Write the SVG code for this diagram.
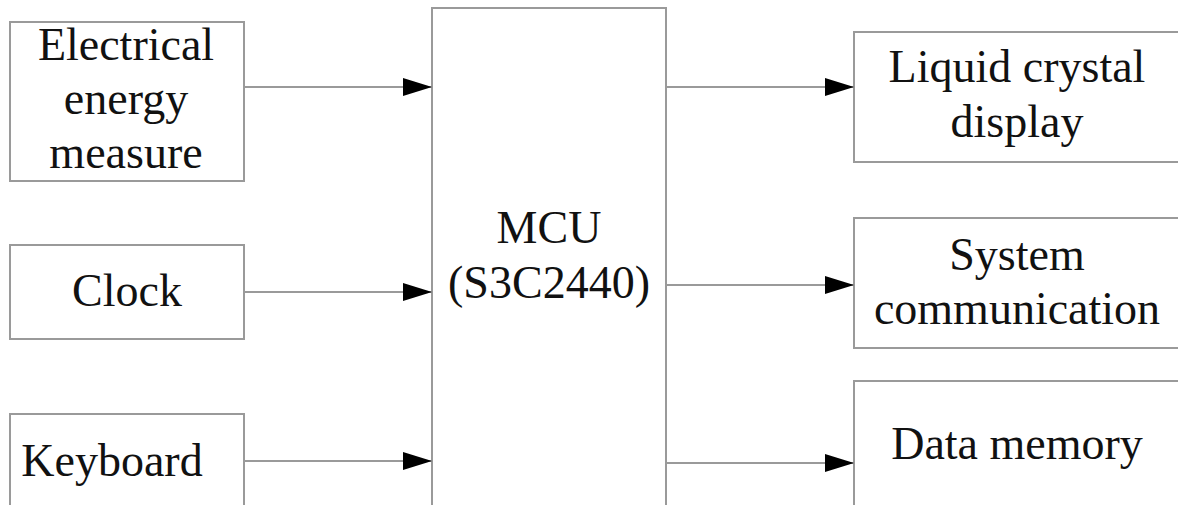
<svg xmlns="http://www.w3.org/2000/svg" width="1178" height="505" viewBox="0 0 1178 505">
<style>
.box{fill:#fff;stroke:#9a9a9a;stroke-width:2}
.lbl{font-family:"Liberation Serif","Times New Roman",serif;font-size:46px;fill:#111;text-anchor:middle}
.conn{stroke:#9a9a9a;stroke-width:2;fill:none}
</style>
<defs>
<marker id="arr" markerUnits="userSpaceOnUse" markerWidth="29" markerHeight="18" refX="29" refY="9" orient="auto">
<path d="M0,0 L29,9 L0,18 Z" fill="#000"/>
</marker>
</defs>
<rect width="1178" height="505" fill="#fff"/>
<g id="n-electrical">
<rect class="box" x="10" y="22" width="234" height="159"/>
<text class="lbl" x="126" y="60">Electrical</text>
<text class="lbl" x="126" y="114">energy</text>
<text class="lbl" x="126" y="168">measure</text>
</g>
<g id="n-clock">
<rect class="box" x="10" y="245" width="234" height="94"/>
<text class="lbl" x="127" y="306">Clock</text>
</g>
<g id="n-keyboard">
<rect class="box" x="10" y="414" width="234" height="110"/>
<text class="lbl" x="112" y="476">Keyboard</text>
</g>
<g id="n-mcu">
<rect class="box" x="432" y="8" width="234" height="520"/>
<text class="lbl" x="549" y="243">MCU</text>
<text class="lbl" x="549" y="298">(S3C2440)</text>
</g>
<g id="n-lcd">
<rect class="box" x="854" y="32" width="340" height="130"/>
<text class="lbl" x="1017" y="82">Liquid crystal</text>
<text class="lbl" x="1017" y="137">display</text>
</g>
<g id="n-comm">
<rect class="box" x="854" y="218" width="340" height="130"/>
<text class="lbl" x="1017" y="270">System</text>
<text class="lbl" x="1017" y="324">communication</text>
</g>
<g id="n-memory">
<rect class="box" x="854" y="381" width="340" height="150"/>
<text class="lbl" x="1017" y="459">Data memory</text>
</g>
<g id="connectors">
<line class="conn" x1="244" y1="87" x2="432" y2="87" marker-end="url(#arr)"/>
<line class="conn" x1="244" y1="292" x2="432" y2="292" marker-end="url(#arr)"/>
<line class="conn" x1="244" y1="461" x2="432" y2="461" marker-end="url(#arr)"/>
<line class="conn" x1="666" y1="87" x2="854" y2="87" marker-end="url(#arr)"/>
<line class="conn" x1="666" y1="285" x2="854" y2="285" marker-end="url(#arr)"/>
<line class="conn" x1="666" y1="463" x2="854" y2="463" marker-end="url(#arr)"/>
</g>
</svg>
